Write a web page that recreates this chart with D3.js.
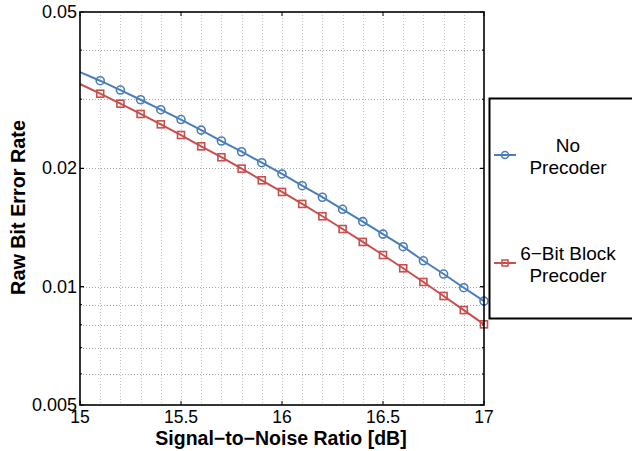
<!DOCTYPE html>
<html>
<head>
<meta charset="utf-8">
<script src="https://cdn.jsdelivr.net/npm/d3@7"></script>
<style>
  body { margin: 0; background: #fff; }
  svg { display: block; font-family: "Liberation Sans", Arial, sans-serif; }
</style>
</head>
<body>
<svg id="chart" width="632" height="451"></svg>
<script>
// data
let snr = [15.0, 15.1, 15.2, 15.3, 15.4, 15.5, 15.6, 15.7, 15.8, 15.9, 16.0,
           16.1, 16.2, 16.3, 16.4, 16.5, 16.6, 16.7, 16.8, 16.9, 17.0];
let no_precoder = [0.03517, 0.03343, 0.03165, 0.02990, 0.02821, 0.02663, 0.02503,
                   0.02348, 0.02205, 0.02068, 0.01936, 0.01807, 0.01689, 0.01574,
                   0.01464, 0.01361, 0.01264, 0.01164, 0.01077, 0.00994, 0.00919];
let block_precoder = [0.03279, 0.03098, 0.02922, 0.02751, 0.02589, 0.02432, 0.02276,
                      0.02135, 0.01997, 0.01865, 0.01742, 0.01624, 0.01511, 0.01402,
                      0.01300, 0.01204, 0.01114, 0.01028, 0.00947, 0.00872, 0.00802];
let x_ticks = [15, 15.5, 16, 16.5, 17];
let x_tick_labels = ["15", "15.5", "16", "16.5", "17"];
let y_ticks = [0.005, 0.01, 0.02, 0.05];
let y_tick_labels = ["0.005", "0.01", "0.02", "0.05"];
let y_grid = [0.006, 0.007, 0.008, 0.009, 0.01, 0.02, 0.03, 0.04];
let x_grid = [15.1, 15.2, 15.3, 15.4, 15.5, 15.6, 15.7, 15.8, 15.9, 16.0,
              16.1, 16.2, 16.3, 16.4, 16.5, 16.6, 16.7, 16.8, 16.9];
let series_names = [["No", "Precoder"], ["6\u2212Bit Block", "Precoder"]];

let svg = d3.select('#chart');
let plot_left = 80, plot_right = 484, plot_top = 12, plot_bottom = 405;

let x = d3.scaleLinear().domain([15, 17]).range([plot_left, plot_right]);
let y = d3.scaleLog().domain([0.005, 0.05]).range([plot_bottom, plot_top]);

let blue = '#4a7ebb', red = '#c84f4c';

// grid
let grid = svg.append('g').attr('class', 'grid');
grid.selectAll('.vgrid').data(x_grid).enter().append('line')
  .attr('x1', d => Math.round(x(d)) + 0.5).attr('x2', d => Math.round(x(d)) + 0.5)
  .attr('y1', plot_top).attr('y2', plot_bottom)
  .attr('stroke', '#c4c4c4').attr('stroke-width', 1).attr('stroke-dasharray', '1,2');
grid.selectAll('.hgrid').data(y_grid).enter().append('line')
  .attr('x1', plot_left).attr('x2', plot_right)
  .attr('y1', d => Math.round(y(d)) + 0.5).attr('y2', d => Math.round(y(d)) + 0.5)
  .attr('stroke', '#a8a8a8').attr('stroke-width', 1).attr('stroke-dasharray', '1,2');

// ticks on all four sides (pointing inwards)
let ticks = svg.append('g').attr('class', 'ticks').attr('stroke', '#000').attr('stroke-width', 1);
x_ticks.forEach(t => {
  ticks.append('line').attr('x1', x(t)).attr('x2', x(t)).attr('y1', plot_bottom).attr('y2', plot_bottom - 4);
  ticks.append('line').attr('x1', x(t)).attr('x2', x(t)).attr('y1', plot_top).attr('y2', plot_top + 4);
});
y_ticks.concat(y_grid).forEach(t => {
  let len = y_ticks.includes(t) ? 4 : 2;
  ticks.append('line').attr('x1', plot_left).attr('x2', plot_left + len).attr('y1', y(t)).attr('y2', y(t));
  ticks.append('line').attr('x1', plot_right).attr('x2', plot_right - len).attr('y1', y(t)).attr('y2', y(t));
});

// tick labels
svg.selectAll('.xlab').data(x_ticks).enter().append('text')
  .attr('x', d => x(d)).attr('y', plot_bottom + 18)
  .attr('text-anchor', 'middle').attr('font-size', '17.5px')
  .text((d, i) => x_tick_labels[i]);
svg.selectAll('.ylab').data(y_ticks).enter().append('text')
  .attr('x', plot_left - 3).attr('y', d => y(d) + 6)
  .attr('text-anchor', 'end').attr('font-size', '18px')
  .text((d, i) => y_tick_labels[i]);

// series
let series = [
  { values: no_precoder, color: blue, marker: 'circle' },
  { values: block_precoder, color: red, marker: 'square' }
];
let line = d3.line().x(d => x(d[0])).y(d => y(d[1]));

series.forEach(s => {
  let pts = snr.map((v, i) => [v, s.values[i]]);
  svg.append('path').datum(pts)
    .attr('d', line).attr('fill', 'none')
    .attr('stroke', s.color).attr('stroke-width', 2);
  let mk = pts.filter(p => p[0] > 15);
  if (s.marker === 'circle') {
    svg.selectAll(null).data(mk).enter().append('circle')
      .attr('cx', d => x(d[0])).attr('cy', d => y(d[1])).attr('r', 4)
      .attr('fill', 'none').attr('stroke', s.color).attr('stroke-width', 1.6);
  } else {
    svg.selectAll(null).data(mk).enter().append('rect')
      .attr('x', d => x(d[0]) - 3.5).attr('y', d => y(d[1]) - 3.5)
      .attr('width', 7).attr('height', 7)
      .attr('fill', 'none').attr('stroke', s.color).attr('stroke-width', 1.6);
  }
});

// axis box
svg.append('rect')
  .attr('x', plot_left).attr('y', plot_top)
  .attr('width', plot_right - plot_left).attr('height', plot_bottom - plot_top)
  .attr('fill', 'none').attr('stroke', '#000').attr('stroke-width', 1.6);

// axis titles
svg.append('text')
  .attr('x', 281).attr('y', 445)
  .attr('text-anchor', 'middle').attr('font-size', '19.5px').attr('font-weight', 'bold')
  .text('Signal\u2212to\u2212Noise Ratio [dB]');
svg.append('text')
  .attr('transform', 'translate(25,207.5) rotate(-90)')
  .attr('text-anchor', 'middle').attr('font-size', '19.8px').attr('font-weight', 'bold')
  .text('Raw Bit Error Rate');

// legend
let legend = svg.append('g').attr('class', 'legend');
legend.append('rect')
  .attr('x', 489.5).attr('y', 98.5).attr('width', 170).attr('height', 220)
  .attr('fill', '#fff').attr('stroke', '#000').attr('stroke-width', 2);
let legend_y = [155, 263];
series.forEach((s, i) => {
  let ly = legend_y[i];
  legend.append('line').attr('x1', 494).attr('x2', 516).attr('y1', ly).attr('y2', ly)
    .attr('stroke', s.color).attr('stroke-width', 2);
  if (s.marker === 'circle') {
    legend.append('circle').attr('cx', 505).attr('cy', ly).attr('r', 3.5)
      .attr('fill', 'none').attr('stroke', s.color).attr('stroke-width', 1.5);
  } else {
    legend.append('rect').attr('x', 502).attr('y', ly - 3).attr('width', 6).attr('height', 6)
      .attr('fill', 'none').attr('stroke', s.color).attr('stroke-width', 1.5);
  }
  let t = legend.append('text').attr('text-anchor', 'middle').attr('font-size', '19px');
  t.append('tspan').attr('x', 568).attr('y', ly - 3).text(series_names[i][0]);
  t.append('tspan').attr('x', 568).attr('y', ly + 18.5).text(series_names[i][1]);
});
</script>
</body>
</html>
